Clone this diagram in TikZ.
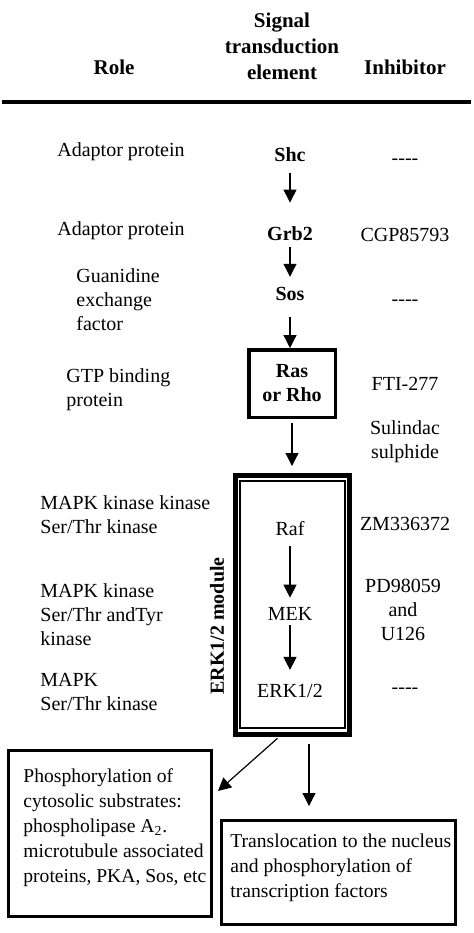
\documentclass[tikz,border=0pt]{standalone}
\usepackage{fontspec}
\setmainfont{Liberation Serif}
\usetikzlibrary{arrows.meta, positioning}
\tikzset{
  % intestazione della tabella
  hdr/.style={font=\fontsize{10.5}{13}\selectfont\bfseries, align=center, inner sep=0pt},
  % etichette di testo
  lbl/.style={font=\fontsize{10}{12}\selectfont, inner sep=0pt},
  role/.style={lbl, anchor=west, align=left},
  inhib/.style={lbl, align=center},
  % elementi della cascata
  elem/.style={font=\fontsize{10}{12}\selectfont\bfseries, inner sep=0pt, align=center},
  enz/.style={lbl, align=center},
  rasbox/.style={elem, draw, line width=1.75pt, minimum width=43.25pt, minimum height=33.75pt},
  % modulo ERK1/2 (doppia cornice)
  modout/.style={draw, line width=2.5pt, minimum width=57pt, minimum height=129.5pt, inner sep=0pt},
  modin/.style={draw, line width=0.6pt, minimum width=52.5pt, minimum height=123.5pt, inner sep=0pt},
  % scatole finali
  outbox/.style={draw, line width=1.5pt, inner sep=0pt},
  outtxt/.style={font=\fontsize{9.8}{12.5}\selectfont, anchor=west, align=left, inner sep=0pt},
  % freccia
  flow/.style={-{Triangle[length=6.5pt, width=6.5pt]}, line width=0.6pt},
}
\newcommand{\nodash}{{-}{-}{-}{-}}
\begin{document}
\begin{tikzpicture}[x=0.5pt, y=-0.5pt]
  \useasboundingbox (0,0) rectangle (474,933);
  % intestazione
  \node[hdr] (hrole) at (114,67.5) {Role};
  \node[hdr] (helem) at (282,46) {Signal\\transduction\\element};
  \node[hdr] (hinh) at (405,67.5) {Inhibitor};
  \draw[line width=1.75pt] (2,102) -- (471,102);
  % ruoli
  \node[role] (r1) at (57,152) {Adaptor protein};
  \node[role] (r2) at (57,231) {Adaptor protein};
  \node[role] (r3) at (76,300) {Guanidine\\exchange\\factor};
  \node[role] (r4) at (66,390) {GTP binding\\protein};
  \node[role] (r5) at (40,514.5) {MAPK kinase kinase\\Ser/Thr kinase};
  \node[role] (r6) at (40,614.5) {MAPK kinase\\Ser/Thr andTyr\\kinase};
  \node[role] (r7) at (40,692) {MAPK\\Ser/Thr kinase};
  % inibitori
  \node[inhib] (i1) at (405,162) {\nodash};
  \node[inhib] (i2) at (405,235) {CGP85793};
  \node[inhib] (i3) at (405,303) {\nodash};
  \node[inhib] (i4) at (405,384) {FTI-277};
  \node[inhib] (i5) at (405,441.5) {Sulindac\\sulphide};
  \node[inhib] (i6) at (405,524) {ZM336372};
  \node[inhib] (i7) at (403,610) {PD98059\\and\\U126};
  \node[inhib] (i8) at (405,691) {\nodash};
  % cascata
  \node[elem] (shc) at (290,154.5) {Shc};
  \node[elem] (grb) at (290,234) {Grb2};
  \node[elem] (sos) at (290,293.5) {Sos};
  \node[rasbox] (ras) at (292,383.5) {Ras\\or Rho};
  \node[modout] (mod) at (292.5,605) {};
  \node[modin] (modi) at (292.5,604.5) {};
  \node[elem, rotate=90] (modlbl) at (217,626) {ERK1/2 module};
  \node[enz] (raf) at (290,529) {Raf};
  \node[enz] (mek) at (290,614) {MEK};
  \node[enz] (erk) at (290,691) {ERK1/2};
  \draw[flow, shorten <=5.3pt, shorten >=12pt] (shc) -- (grb);
  \draw[flow, shorten <=3pt, shorten >=4.8pt] (grb) -- (sos);
  \draw[flow, shorten <=8.3pt] (sos.south) -- (sos.south |- ras.north);
  \draw[flow, shorten <=2pt, shorten >=3.5pt] (ras.south) -- (ras.south |- mod.north);
  \draw[flow, shorten <=4.5pt, shorten >=4.7pt] (raf) -- (mek);
  \draw[flow, shorten <=2.2pt, shorten >=7pt] (mek) -- (erk);
  % effetti a valle
  \node[outbox, minimum width=101.5pt, minimum height=83pt] (cyto) at (110,833.5) {};
  \node[outtxt] (cytotxt) at (23,827.5) {Phosphorylation of\\cytosolic substrates:\\phospholipase A\textsubscript{2}.\\microtubule associated\\proteins, PKA, Sos, etc};
  \node[outbox, minimum width=117pt, minimum height=52pt] (trans) at (338.5,872.5) {};
  \node[outtxt] (transtxt) at (230,867.5) {Translocation to the nucleus\\and phosphorylation of\\transcription factors};
  \draw[flow, shorten <=1pt] ([xshift=-6.75pt]mod.south) -- ([shift={(2.5pt,-21pt)}]cyto.north east);
  \draw[flow, shorten <=3.5pt, shorten >=6.5pt] ([xshift=8.25pt]mod.south) -- ([xshift=8.25pt]mod.south |- trans.north);
\end{tikzpicture}
\end{document}
